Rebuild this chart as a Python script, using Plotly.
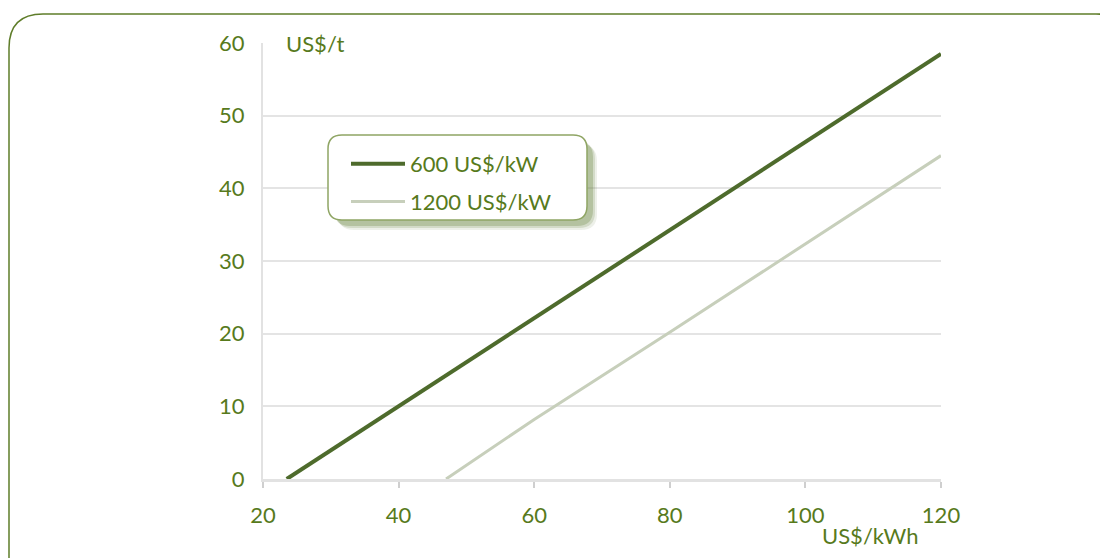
import plotly.graph_objects as go

# ── Data ──────────────────────────────────────────────────────────────────────
price_600_x = [23.5, 40, 60, 80, 100, 120]
price_600_y = [0, 10, 22.1, 34.3, 46.3, 58.5]

price_1200_x = [47, 60, 80, 100, 120]
price_1200_y = [0, 8.2, 20.2, 32.4, 44.5]

x_ticks = [20, 40, 60, 80, 100, 120]
y_ticks = [0, 10, 20, 30, 40, 50, 60]

GREEN = "#577a1c"
FONT = "Lato"
FS = 22

# the page body adds an 8px offset, so work in screen pixels and shift back
OFF = 8
W, H = 1108, 558
L, T = 263 - OFF, 43 - OFF
R, B = W - (941 - OFF), H - (479 - OFF)
PW, PH = W - L - R, H - T - B


def px(x):
    return (x - OFF - L) / PW


def py(y):
    return (H - B - (y - OFF)) / PH


def rounded_rect(x0, y0, x1, y1, r):
    return (
        f"M {px(x0 + r)},{py(y0)} L {px(x1 - r)},{py(y0)} "
        f"Q {px(x1)},{py(y0)} {px(x1)},{py(y0 + r)} "
        f"L {px(x1)},{py(y1 - r)} Q {px(x1)},{py(y1)} {px(x1 - r)},{py(y1)} "
        f"L {px(x0 + r)},{py(y1)} Q {px(x0)},{py(y1)} {px(x0)},{py(y1 - r)} "
        f"L {px(x0)},{py(y0 + r)} Q {px(x0)},{py(y0)} {px(x0 + r)},{py(y0)} Z"
    )


fig = go.Figure()
fig.add_trace(go.Scatter(
    x=price_600_x, y=price_600_y, mode="lines", name="600 US$/kW",
    legendgroup="a", line=dict(color="#4e6b2c", width=4),
))
fig.add_trace(go.Scatter(
    x=price_1200_x, y=price_1200_y, mode="lines", name="1200 US$/kW",
    legendgroup="b", line=dict(color="#c7cfbb", width=3),
))

shapes = [
    # outer frame
    dict(type="path", xref="paper", yref="paper", layer="below",
         path=rounded_rect(9, 14, 1130, 620, 34),
         line=dict(color="#5f7d2a", width=1.5), fillcolor="rgba(0,0,0,0)"),
]
# soft legend shadow
for d, op in [(10, 0.12), (8, 0.2), (6, 0.3)]:
    shapes.append(dict(type="path", xref="paper", yref="paper", layer="above",
                       path=rounded_rect(328 + d, 135 + d, 587 + d, 220 + d, 16),
                       line=dict(width=0), fillcolor=f"rgba(110,135,70,{op})"))
shapes.append(dict(type="path", xref="paper", yref="paper", layer="above",
                   path=rounded_rect(328, 135, 587, 220, 14),
                   line=dict(color="#8fa564", width=1.5), fillcolor="white"))

fig.update_layout(
    width=W, height=H,
    margin=dict(l=L, r=R, t=T, b=B),
    paper_bgcolor="white", plot_bgcolor="white",
    font=dict(family=FONT, color=GREEN, size=FS),
    shapes=shapes,
    showlegend=True,
    legend=dict(
        x=px(346), y=py(143), xanchor="left", yanchor="top",
        bgcolor="rgba(0,0,0,0)", borderwidth=0,
        font=dict(family=FONT, color=GREEN, size=FS),
        itemwidth=54, traceorder="grouped", tracegroupgap=6,
    ),
    xaxis=dict(
        range=[20, 120], tickvals=x_ticks, showgrid=False, zeroline=False,
        showline=True, linecolor="#e2e2e2", linewidth=3,
        ticks="outside", ticklen=6, tickcolor="#cfcfcf", tickwidth=2,
        ticklabelstandoff=9,
        tickfont=dict(family=FONT, color=GREEN, size=FS),
    ),
    yaxis=dict(
        range=[0, 60], tickvals=y_ticks, showgrid=True,
        gridcolor="#e4e4e4", gridwidth=2, zeroline=False,
        showline=True, linecolor="#e2e2e2", linewidth=2,
        ticks="", ticklabelstandoff=12,
        tickfont=dict(family=FONT, color=GREEN, size=FS),
    ),
    annotations=[
        dict(text="US$/t", xref="paper", yref="paper", x=px(284), y=1.0,
             xanchor="left", yanchor="middle", showarrow=False,
             bgcolor="white", font=dict(family=FONT, color=GREEN, size=FS)),
        dict(text="US$/kWh", xref="paper", yref="paper", x=px(870), y=py(535),
             xanchor="center", yanchor="middle", showarrow=False,
             font=dict(family=FONT, color=GREEN, size=FS)),
    ],
)

fig.write_html("out.html")
